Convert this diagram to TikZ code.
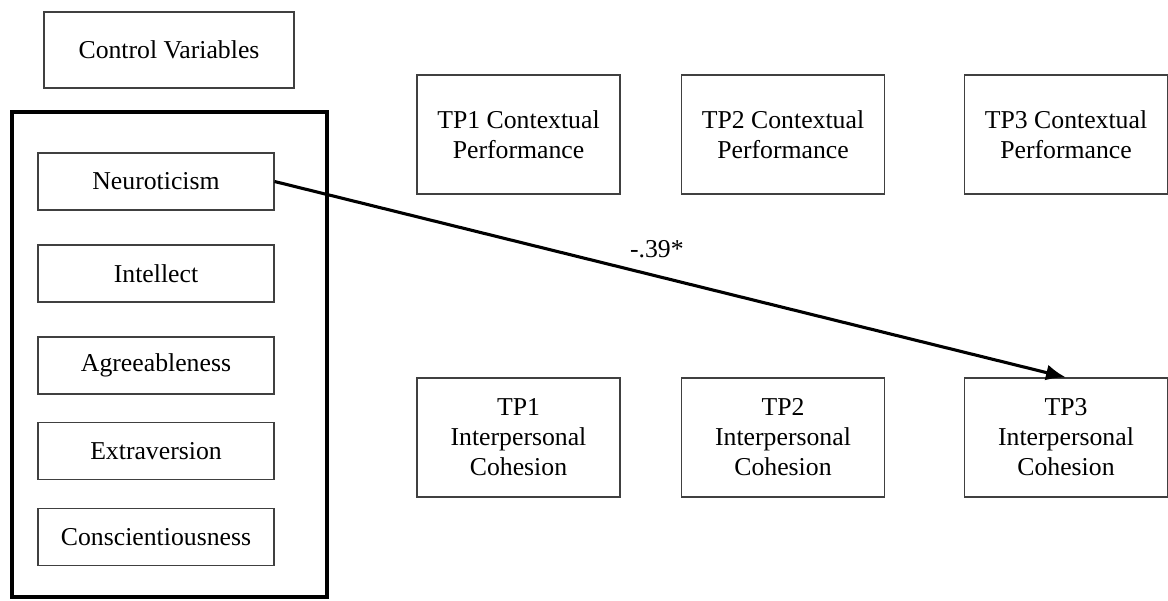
\documentclass[tikz,border=0pt]{standalone}
\usepackage{fontspec}
\setmainfont{Liberation Serif}
\usetikzlibrary{positioning,arrows.meta}

\begin{document}
\begin{tikzpicture}[
  x=0.025cm, y=-0.025cm,
  every node/.style={font=\fontsize{18.3}{21.3}\selectfont},
  varbox/.style={draw=black!75,line width=0.8pt,minimum width=5.9cm,minimum height=1.425cm,align=center},
  tpbox/.style={draw=black!75,line width=0.8pt,minimum width=5.075cm,minimum height=2.975cm,align=center}
  ]
  \useasboundingbox (0,0) rectangle (1168,600);

  \node[draw=black!75,line width=0.8pt,minimum width=6.25cm,minimum height=1.9cm] (ctrl) at (169,50) {Control Variables};

  % big five
  \draw[line width=3.5pt] (12,112) rectangle (327,597);
  \node[varbox] (neuro) at (156,181.5) {Neuroticism};
  \node[varbox] (intel) at (156,273.5) {Intellect};
  \node[varbox] (agree) at (156,365.5) {Agreeableness};
  \node[varbox] (extra) at (156,451) {Extraversion};
  \node[varbox] (consc) at (156,537) {Conscientiousness};

  % time points
  \node[tpbox] (cp1) at (518.5,134.5) {TP1 Contextual\\Performance};
  \node[tpbox] (cp2) at (783,134.5) {TP2 Contextual\\Performance};
  \node[tpbox] (cp3) at (1066,134.5) {TP3 Contextual\\Performance};
  \node[tpbox] (ic1) at (518.5,437.5) {TP1\\Interpersonal\\Cohesion};
  \node[tpbox] (ic2) at (783,437.5) {TP2\\Interpersonal\\Cohesion};
  \node[tpbox] (ic3) at (1066,437.5) {TP3\\Interpersonal\\Cohesion};

  \draw[-{Latex[length=0.5cm,width=0.4cm]},line width=2.2pt] (neuro.east) -- (ic3.north)
    node[pos=0.483,above=0.3cm] {-.39*};
\end{tikzpicture}
\end{document}
